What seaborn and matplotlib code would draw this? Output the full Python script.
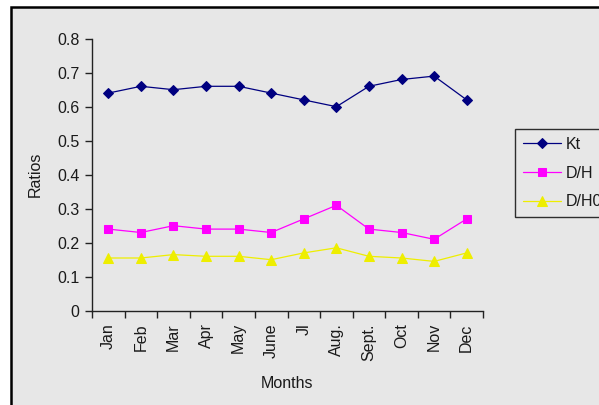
import matplotlib
matplotlib.use("Agg")
import matplotlib.pyplot as plt
import seaborn as sns
import pandas as pd
from matplotlib.patches import Rectangle
from matplotlib.ticker import FixedLocator

months = ["Jan", "Feb", "Mar", "Apr", "May", "June", "Jl", "Aug.", "Sept.", "Oct", "Nov", "Dec"]
kt = [0.64, 0.66, 0.65, 0.66, 0.66, 0.64, 0.62, 0.60, 0.66, 0.68, 0.69, 0.62]
dh = [0.24, 0.23, 0.25, 0.24, 0.24, 0.23, 0.27, 0.31, 0.24, 0.23, 0.21, 0.27]
dh0 = [0.155, 0.155, 0.165, 0.16, 0.16, 0.15, 0.17, 0.185, 0.16, 0.155, 0.145, 0.17]
yticks = [0, 0.1, 0.2, 0.3, 0.4, 0.5, 0.6, 0.7, 0.8]
ytick_labels = ["0", "0.1", "0.2", "0.3", "0.4", "0.5", "0.6", "0.7", "0.8"]

sns.set_style("white")
plt.rcParams['font.family'] = ['Liberation Sans', 'DejaVu Sans']

W, H = 599, 405
fig = plt.figure(figsize=(W / 100, H / 100), dpi=100, facecolor="white")
bg = "#e7e7e7"
fig.patches.append(Rectangle((11 / W, -0.1), 1.2, 1.1 - 7 / H, transform=fig.transFigure,
                             facecolor=bg, edgecolor="black", linewidth=1.8, zorder=-10))

ax = fig.add_axes([92 / W, (H - 310.7) / H, (483 - 92) / W, (310.7 - 38.7) / H])
ax.set_facecolor(bg)
ax.set_zorder(5)

df = pd.DataFrame({"pos": range(len(months)), "Kt": kt, "D/H": dh, "D/H0": dh0})
sns.lineplot(data=df, x="pos", y="Kt", ax=ax, color="#000080", marker="D", markersize=5.5,
             markeredgecolor="#000080", linewidth=0.9, label="Kt")
sns.lineplot(data=df, x="pos", y="D/H", ax=ax, color="#ff00ff", marker="s", markersize=6,
             markeredgecolor="#ff00ff", linewidth=0.9, label="D/H")
sns.lineplot(data=df, x="pos", y="D/H0", ax=ax, color="#eeee00", marker="^", markersize=7,
             markeredgecolor="#eeee00", linewidth=0.9, label="D/H0")

ax.set_xlim(-0.5, len(months) - 0.5)
ax.set_ylim(0, 0.8)
ax.set_yticks(yticks)
ax.set_yticklabels(ytick_labels)
ax.set_xticks(range(len(months)))
ax.set_xticklabels(months, rotation=90, va="top", ha="center")
ax.xaxis.set_minor_locator(FixedLocator([i - 0.5 for i in range(len(months) + 1)]))
ax.tick_params(axis="x", which="major", length=0, pad=9, labelsize=11.5, colors="#1a1a1a")
ax.tick_params(axis="x", which="minor", length=5, width=1, color="#222222", direction="out", bottom=True)
ax.tick_params(axis="y", length=5, width=1, color="#222222", direction="out", pad=4,
               labelsize=11.5, labelcolor="#1a1a1a", left=True)

for s in ["top", "right"]:
    ax.spines[s].set_visible(False)
for s in ["left", "bottom"]:
    ax.spines[s].set_color("#222222")
    ax.spines[s].set_linewidth(1)

ax.set_xlabel("Months", fontsize=11.5, color="#1a1a1a", labelpad=11)
ax.set_ylabel("Ratios", fontsize=11.5, color="#1a1a1a", labelpad=10)

leg = ax.legend(loc="upper left", bbox_to_anchor=(515 / W, (H - 129) / H), bbox_transform=fig.transFigure,
                frameon=True, fancybox=False, fontsize=11.5, handlelength=2.4, handletextpad=0.25,
                labelspacing=0.85, borderpad=0.5, borderaxespad=0)
for t in leg.get_texts():
    t.set_color("#1a1a1a")
leg.get_frame().set_edgecolor("black")
leg.get_frame().set_facecolor(bg)
leg.get_frame().set_linewidth(1)

fig.savefig("out.png", dpi=100, facecolor="white")
